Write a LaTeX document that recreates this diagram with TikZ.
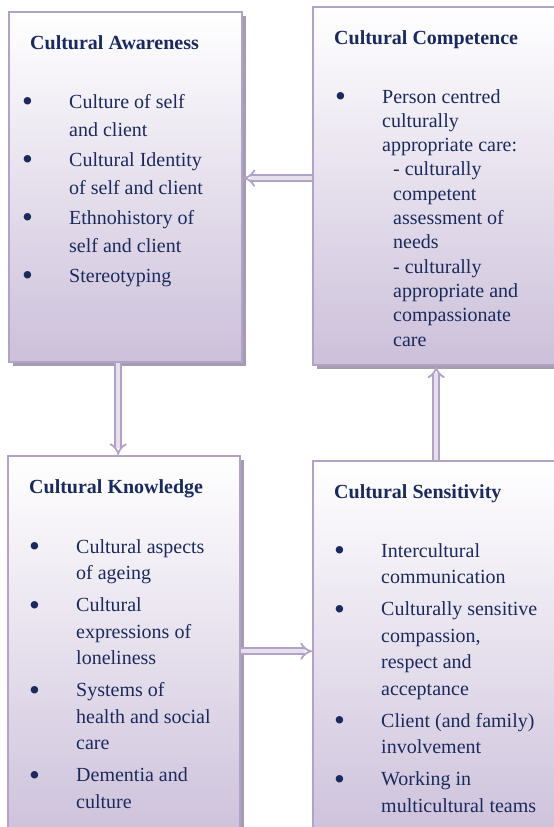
\documentclass[tikz,border=0pt]{standalone}
\usepackage{fontspec}
\setmainfont{Liberation Serif}
\usepackage{array}
\usepackage{graphicx}
\usetikzlibrary{shadows,arrows.meta}
\definecolor{navy}{HTML}{1B2A5C}
\definecolor{lavline}{HTML}{B3A2C7}
\definecolor{lavfill}{HTML}{CCC0DA}
\definecolor{lavpale}{HTML}{E6E0EC}
\definecolor{shadegrey}{HTML}{A39DAF}
\newcommand{\blt}{\raisebox{-3.6pt}{\scalebox{1.55}{\textbullet}}}
\tikzset{
  box/.style={draw=lavline, line width=2.4pt, top color=white, bottom color=lavfill,
    anchor=north west, inner sep=0pt,
    drop shadow={shadow xshift=4pt, shadow yshift=-4pt, fill=shadegrey, opacity=1}},
  heading/.style={anchor=base west, inner sep=0pt, text=navy, font=\fontsize{20}{24}\selectfont\bfseries},
  list/.style={anchor=base west, inner sep=0pt, text=navy},
  flow/.style={draw=lavline, line width=1.8pt, double=lavpale, double distance=4pt, -{Implies}}
}
\begin{document}
\begin{tikzpicture}[x=1pt,y=-1pt]
  \useasboundingbox (0,0) rectangle (554,827);
  % the four boxes
  \node[box, minimum width=233pt, minimum height=350pt] (A) at (8,11) {};
  \node[box, minimum width=246pt, minimum height=358pt] (C) at (312,6) {};
  \node[box, minimum width=232pt, minimum height=390pt] (K) at (7,455) {};
  \node[box, minimum width=246pt, minimum height=385pt] (S) at (312,460) {};
  % headings
  \node[heading] (At) at (30,49) {Cultural Awareness};
  \node[heading] (Ct) at (334,44) {Cultural Competence};
  \node[heading] (Kt) at (29,493) {Cultural Knowledge};
  \node[heading] (St) at (334,498) {Cultural Sensitivity};
  % bullet lists
  \node[list, font=\fontsize{20}{28}\selectfont] (Al) at (22,108) {%
    \begin{tabular}[t]{@{}p{47pt}@{}l@{}}
      \blt & Culture of self\\
           & and client\\[2pt]
      \blt & Cultural Identity\\
           & of self and client\\[2pt]
      \blt & Ethnohistory of\\
           & self and client\\[2pt]
      \blt & Stereotyping
    \end{tabular}};
  \node[list, font=\fontsize{20}{24.3}\selectfont] (Cl) at (335,103) {%
    \begin{tabular}[t]{@{}p{47pt}@{}l@{}}
      \blt & Person centred\\
           & culturally\\
           & appropriate care:\\
           & \hspace*{11pt}- culturally\\
           & \hspace*{11pt}competent\\
           & \hspace*{11pt}assessment of\\
           & \hspace*{11pt}needs\\
           & \hspace*{11pt}- culturally\\
           & \hspace*{11pt}appropriate and\\
           & \hspace*{11pt}compassionate\\
           & \hspace*{11pt}care
    \end{tabular}};
  \node[list, font=\fontsize{20}{26.5}\selectfont] (Kl) at (29,553) {%
    \begin{tabular}[t]{@{}p{47pt}@{}l@{}}
      \blt & Cultural aspects\\
           & of ageing\\[5.5pt]
      \blt & Cultural\\
           & expressions of\\
           & loneliness\\[5.5pt]
      \blt & Systems of\\
           & health and social\\
           & care\\[5.5pt]
      \blt & Dementia and\\
           & culture
    \end{tabular}};
  \node[list, font=\fontsize{20}{26.7}\selectfont] (Sl) at (334,557) {%
    \begin{tabular}[t]{@{}p{47pt}@{}l@{}}
      \blt & Intercultural\\
           & communication\\[5pt]
      \blt & Culturally sensitive\\
           & compassion,\\
           & respect and\\
           & acceptance\\[5pt]
      \blt & Client (and family)\\
           & involvement\\[5pt]
      \blt & Working in\\
           & multicultural teams
    \end{tabular}};
  % arrows between the boxes
  \draw[flow] ([yshift=8pt]C.west) -- ([yshift=8pt]C.west -| A.east);
  \draw[flow] ([xshift=-7.5pt]A.south) -- ([xshift=-7.5pt]A.south |- K.north);
  \draw[flow] (K.east) -- (K.east -| S.west);
  \draw[flow] (S.north) -- (S.north |- C.south);
\end{tikzpicture}
\end{document}
